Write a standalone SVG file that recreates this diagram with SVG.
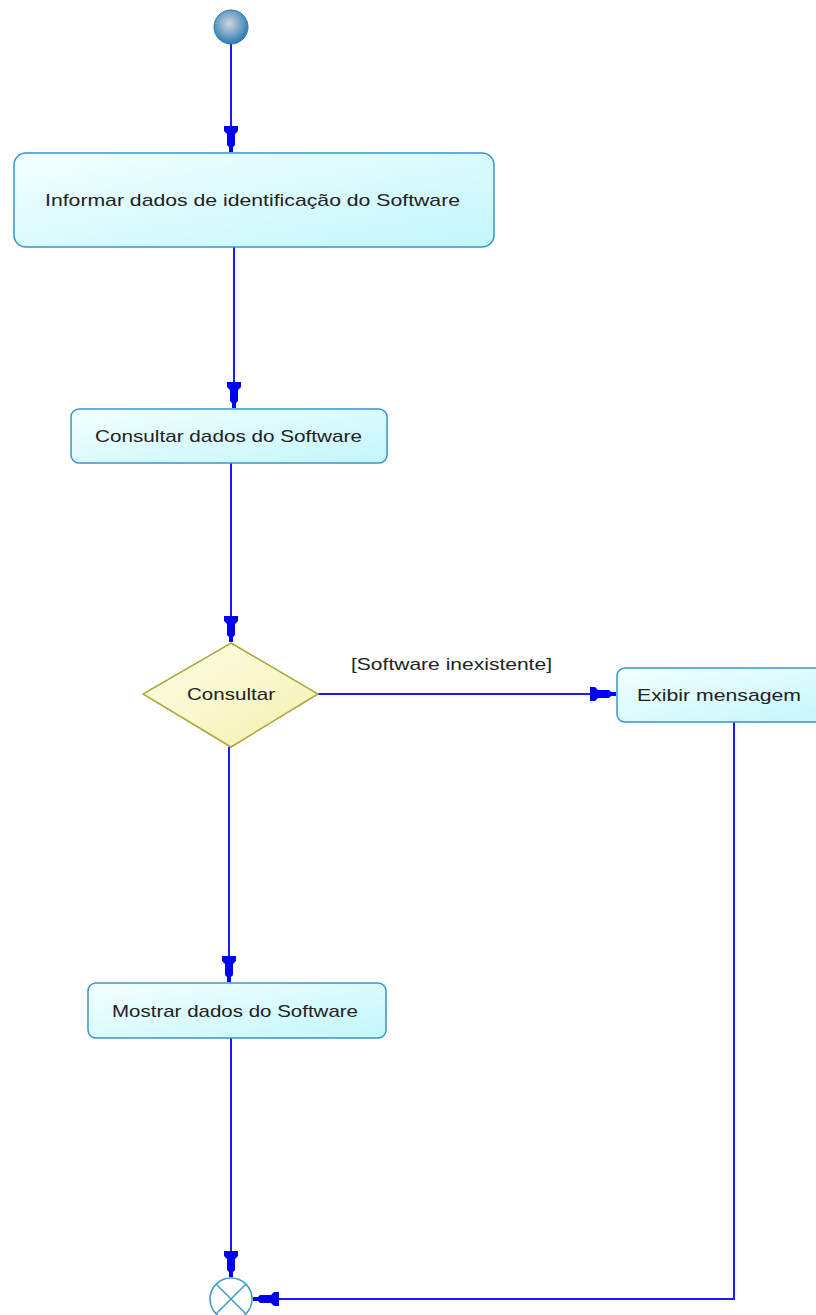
<svg xmlns="http://www.w3.org/2000/svg" width="816" height="1315" viewBox="0 0 816 1315">
<style>
.box{stroke:#3a94cc;stroke-width:1.5;fill:url(#boxg)}
.lbl{font-family:"Liberation Sans",Arial,sans-serif;font-size:17px;fill:#222}
.conn{stroke:#1a1aff;stroke-width:2;fill:none}
</style>
<defs>
<linearGradient id="boxg" x1="0" y1="0" x2="1" y2="1">
<stop offset="0" stop-color="#f4ffff"/>
<stop offset="1" stop-color="#c2f6fb"/>
</linearGradient>
<linearGradient id="diag" x1="0" y1="0" x2="1" y2="1">
<stop offset="0" stop-color="#ffffe8"/>
<stop offset="1" stop-color="#f4f0b0"/>
</linearGradient>
<radialGradient id="initg" cx="0.45" cy="0.4" r="0.6">
<stop offset="0" stop-color="#d2d6dc"/>
<stop offset="1" stop-color="#2a7bb3"/>
</radialGradient>
<marker id="arr" markerUnits="userSpaceOnUse" viewBox="-27 -8 28 16" refX="0" refY="0" markerWidth="28" markerHeight="16" orient="auto">
<path d="M-26,-7 L-26,7 L-21,7 L-18,4 L-7,4 L-5,2 L0,2 L0,-2 L-5,-2 L-7,-4 L-18,-4 L-21,-7 Z" fill="#0000f0"/>
</marker>
</defs>

<g id="connectors">
<line class="conn" x1="231" y1="43" x2="231" y2="152" marker-end="url(#arr)"/>
<line class="conn" x1="234" y1="247" x2="234" y2="408" marker-end="url(#arr)"/>
<line class="conn" x1="231" y1="463" x2="231" y2="642" marker-end="url(#arr)"/>
<line class="conn" x1="318" y1="694" x2="616" y2="694" marker-end="url(#arr)"/>
<line class="conn" x1="229" y1="747" x2="229" y2="982" marker-end="url(#arr)"/>
<line class="conn" x1="231" y1="1038" x2="231" y2="1277" marker-end="url(#arr)"/>
<polyline class="conn" points="734,722 734,1299 253,1299" marker-end="url(#arr)"/>
<text class="lbl" x="351" y="670" textLength="201" lengthAdjust="spacingAndGlyphs">[Software inexistente]</text>
</g>

<g id="start">
<circle cx="231" cy="27" r="17" fill="url(#initg)" stroke="#2a7bb3" stroke-width="1"/>
</g>

<g id="informar">
<rect class="box" x="14" y="153" width="480" height="94" rx="12"/>
<text class="lbl" x="45" y="206" textLength="415" lengthAdjust="spacingAndGlyphs">Informar dados de identificação do Software</text>
</g>

<g id="consultarDados">
<rect class="box" x="71" y="409" width="316" height="54" rx="8"/>
<text class="lbl" x="95" y="442" textLength="267" lengthAdjust="spacingAndGlyphs">Consultar dados do Software</text>
</g>

<g id="decisao">
<polygon points="231,643 318,694 231,747 143,694" fill="url(#diag)" stroke="#a9a838" stroke-width="1.5"/>
<text class="lbl" x="187" y="700" textLength="88" lengthAdjust="spacingAndGlyphs">Consultar</text>
</g>

<g id="exibir">
<rect class="box" x="617" y="668" width="230" height="54" rx="8"/>
<text class="lbl" x="637" y="701" textLength="164" lengthAdjust="spacingAndGlyphs">Exibir mensagem</text>
</g>

<g id="mostrar">
<rect class="box" x="88" y="983" width="298" height="55" rx="8"/>
<text class="lbl" x="112" y="1017" textLength="246" lengthAdjust="spacingAndGlyphs">Mostrar dados do Software</text>
</g>

<g id="fim">
<circle cx="231" cy="1299" r="21" fill="#ffffff" stroke="#3a9ad0" stroke-width="1.5"/>
<line x1="216" y1="1284" x2="246" y2="1314" stroke="#3a9ad0" stroke-width="1.5"/>
<line x1="246" y1="1284" x2="216" y2="1314" stroke="#3a9ad0" stroke-width="1.5"/>
</g>
</svg>
